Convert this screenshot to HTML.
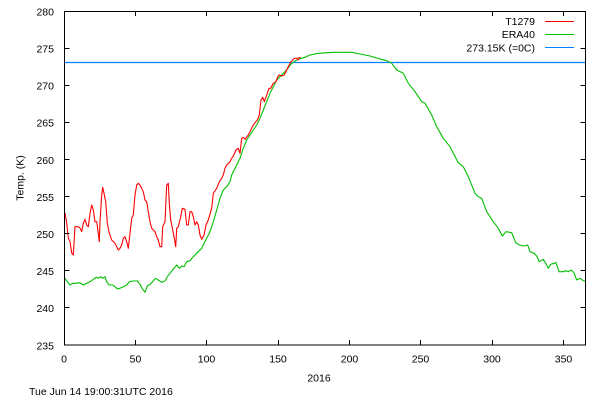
<!DOCTYPE html>
<html>
<head>
<meta charset="utf-8">
<style>
  html, body { margin: 0; padding: 0; background: #ffffff; }
  svg { display: block; }
  text { font-family: "Liberation Sans", "DejaVu Sans", sans-serif; font-size: 10.5px; fill: #000; }
</style>
</head>
<body>
<svg width="600" height="400" viewBox="0 0 600 400" xmlns="http://www.w3.org/2000/svg">
  <rect x="0" y="0" width="600" height="400" fill="#ffffff"/>

  <!-- 273.15K line -->
  <line x1="64.5" y1="62.5" x2="585.5" y2="62.5" stroke="#0080ff" stroke-width="1.3"/>

  <!-- ERA40 green -->
  <polyline fill="none" stroke="#00c000" stroke-width="1.1" stroke-linejoin="round" points="65,278.3 67.3,281.7 70,285 73.3,283.3 76.7,283.3 78.3,282.7 80.7,283.3 83.3,285 86.7,283.3 90,281.7 93.3,279.3 96,277.3 98.3,278.3 100.7,276.7 102.7,278.3 105,276.7 106.7,281.7 109.3,285 112.7,285 115,286.7 117.3,289 120,288.3 123.3,286.7 126.7,285 129.3,281.7 132.7,281 137.3,281 140,284.3 142.7,289.3 145,292.3 147.3,286 150,284.3 152.7,281.7 155.3,278.3 158.3,280 161.7,282.3 165,281 167.3,276.7 170,273.3 173.3,269 176.7,265 179.3,268.3 181.7,266 184,266.7 186.7,261.7 190,260.7 192.7,257.3 195,255 198.3,251.7 201.7,248.3 204,243.3 206.7,238.3 210,231.7 213.3,222 216.7,210 220,198.3 223.3,190 226.7,186.7 230,181.7 231.7,175 233.3,171.7 236.7,165 240,158.3 243.3,148.3 246.7,140 250,135 253.3,130 256.7,125 260,118.3 263.3,110 266.7,101.7 270,93.3 273.3,86.7 276.7,80 280,76.7 283.3,73.3 286.7,70 289,66.7 291.7,63.3 296.7,60 298.3,59.3 305,57.3 310,55 318.3,53.3 333.3,52.3 351.7,52.3 360,54 370,56 380,59 386.7,60.7 391.7,63.3 396.7,70 403.3,73.3 408.3,83.3 415,91.7 421.7,101.7 425,103.3 431.7,115 436.7,126.7 443.3,138.3 450,146.7 458.3,162.7 463.3,166.7 468.3,176.7 475,193.3 478.3,196.7 481.7,198.3 486.7,211.7 493.3,221.7 498.3,228.3 502.3,236 506,231.7 511.7,232.7 515.7,242.7 519.3,245 523.3,246 527.7,245 530,251.7 534,253.3 536.7,256 539.3,261.7 543.3,259.3 545.7,263.3 548.3,268.3 550.7,264.3 556,262.7 559,271.7 563.3,271.7 566,270.7 568.3,271.7 571,270 574,272.7 576.7,280 580,278.3 583.3,280.7 585,281"/>

  <!-- T1279 red -->
  <polyline fill="none" stroke="#ff0000" stroke-width="1.1" stroke-linejoin="round" points="65,213 66.7,223 68.3,238 70,241.7 71.7,253 73.3,255 75,226.7 78.3,226.7 80,228 81.7,231.7 83.3,223.3 85,219.3 86.7,225 88.3,226.7 90,213.3 91.7,205 93.3,210 95,221.7 96.7,221.7 98.3,233.3 99.3,241.7 100,221.7 101.7,195 102.7,187.3 104,193.3 105.7,201.7 107.3,223.3 109.3,233.3 111.7,240 115,243.3 118.3,250 120,248.3 121.7,245 123.3,238.3 125,236.7 126.7,241.7 128.3,248.3 130,233.3 131.7,218.3 133.3,215 135,195 136.7,185 138.3,183.3 140,185 141.7,188.3 143.3,191.7 145,200 146.7,201.7 148.3,211.7 150,221.7 151.7,228.3 155,231.7 156.7,236.7 158.3,240 160,246.7 161.7,246.7 162.7,226.7 165,221.7 166.7,185 168.3,183.3 169.3,203.3 170.7,220 172.7,230 174.3,238.3 175.7,246.7 176.7,228.3 178.3,226.7 180.7,216.7 182.3,208.3 185,209.3 186.7,225 188.3,225 190,211.7 191.7,211.7 193.3,216.7 195,225 196.7,221.7 198.3,225 200,235 201.7,239.3 204,235 206,225 208.3,220 211.7,208.3 213.3,193.3 216.7,188.3 219.3,181.7 221.7,178.3 223.3,175 225,168.3 226.7,165 230,161.7 231.7,158.3 233.3,156 236,150 238.3,148.3 240,153.3 241.7,138.3 243.3,137.3 245,139.3 248.3,135 250,131.7 252.7,126 255,122.7 257.3,120 259.3,115 261,100 262.7,97.3 264.3,101.7 266.7,95 269,88.3 270.7,88.3 273.3,83.3 276,81.7 277.7,76.7 279.3,75 281.7,76 284.3,75 286.7,70 288.3,66.7 290.7,62 292.7,60 294.3,58.5 296.7,58 298,60 299,57.5 300.5,57.5"/>

  <!-- axes box -->
  <rect x="64.5" y="11.5" width="521" height="333.5" fill="none" stroke="#000" stroke-width="1"/>

  <!-- y ticks left & right -->
  <g stroke="#000" stroke-width="1">
    <line x1="64.5" y1="48.5" x2="69.5" y2="48.5"/><line x1="580.5" y1="48.5" x2="585.5" y2="48.5"/>
    <line x1="64.5" y1="85.5" x2="69.5" y2="85.5"/><line x1="580.5" y1="85.5" x2="585.5" y2="85.5"/>
    <line x1="64.5" y1="122.5" x2="69.5" y2="122.5"/><line x1="580.5" y1="122.5" x2="585.5" y2="122.5"/>
    <line x1="64.5" y1="159.5" x2="69.5" y2="159.5"/><line x1="580.5" y1="159.5" x2="585.5" y2="159.5"/>
    <line x1="64.5" y1="196.5" x2="69.5" y2="196.5"/><line x1="580.5" y1="196.5" x2="585.5" y2="196.5"/>
    <line x1="64.5" y1="233.5" x2="69.5" y2="233.5"/><line x1="580.5" y1="233.5" x2="585.5" y2="233.5"/>
    <line x1="64.5" y1="270.5" x2="69.5" y2="270.5"/><line x1="580.5" y1="270.5" x2="585.5" y2="270.5"/>
    <line x1="64.5" y1="307.5" x2="69.5" y2="307.5"/><line x1="580.5" y1="307.5" x2="585.5" y2="307.5"/>
    <!-- x ticks bottom & top -->
    <line x1="135.5" y1="345" x2="135.5" y2="340"/><line x1="135.5" y1="11.5" x2="135.5" y2="16"/>
    <line x1="206.5" y1="345" x2="206.5" y2="340"/><line x1="206.5" y1="11.5" x2="206.5" y2="16"/>
    <line x1="278.5" y1="345" x2="278.5" y2="340"/><line x1="278.5" y1="11.5" x2="278.5" y2="16"/>
    <line x1="349.5" y1="345" x2="349.5" y2="340"/><line x1="349.5" y1="11.5" x2="349.5" y2="16"/>
    <line x1="420.5" y1="345" x2="420.5" y2="340"/><line x1="420.5" y1="11.5" x2="420.5" y2="16"/>
    <line x1="492.5" y1="345" x2="492.5" y2="340"/><line x1="492.5" y1="11.5" x2="492.5" y2="16"/>
    <line x1="563.5" y1="345" x2="563.5" y2="340"/><line x1="563.5" y1="11.5" x2="563.5" y2="16"/>
  </g>

  <!-- y tick labels -->
  <g text-anchor="end">
    <text x="54" y="15.5">280</text>
    <text x="54" y="52.5">275</text>
    <text x="54" y="89.5">270</text>
    <text x="54" y="126.5">265</text>
    <text x="54" y="164">260</text>
    <text x="54" y="201">255</text>
    <text x="54" y="238">250</text>
    <text x="54" y="275">245</text>
    <text x="54" y="312">240</text>
    <text x="54" y="349.5">235</text>
  </g>

  <!-- x tick labels -->
  <g text-anchor="middle">
    <text x="64" y="362.5">0</text>
    <text x="135.5" y="362.5">50</text>
    <text x="206.5" y="362.5">100</text>
    <text x="278" y="362.5">150</text>
    <text x="349.5" y="362.5">200</text>
    <text x="420.5" y="362.5">250</text>
    <text x="492" y="362.5">300</text>
    <text x="563.5" y="362.5">350</text>
  </g>

  <!-- axis titles -->
  <text x="319" y="381.5" text-anchor="middle">2016</text>
  <text x="0" y="0" text-anchor="middle" transform="translate(23.5,178) rotate(-90)">Temp. (K)</text>

  <!-- timestamp -->
  <text x="29" y="395">Tue Jun 14 19:00:31UTC 2016</text>

  <!-- legend -->
  <g text-anchor="end">
    <text x="535" y="25">T1279</text>
    <text x="535" y="38">ERA40</text>
    <text x="535" y="51.5">273.15K (=0C)</text>
  </g>
  <line x1="545" y1="21.5" x2="574" y2="21.5" stroke="#ff0000" stroke-width="1.1"/>
  <line x1="545" y1="34.5" x2="574" y2="34.5" stroke="#00c000" stroke-width="1.1"/>
  <line x1="545" y1="47.5" x2="574" y2="47.5" stroke="#0080ff" stroke-width="1.1"/>
</svg>
</body>
</html>
